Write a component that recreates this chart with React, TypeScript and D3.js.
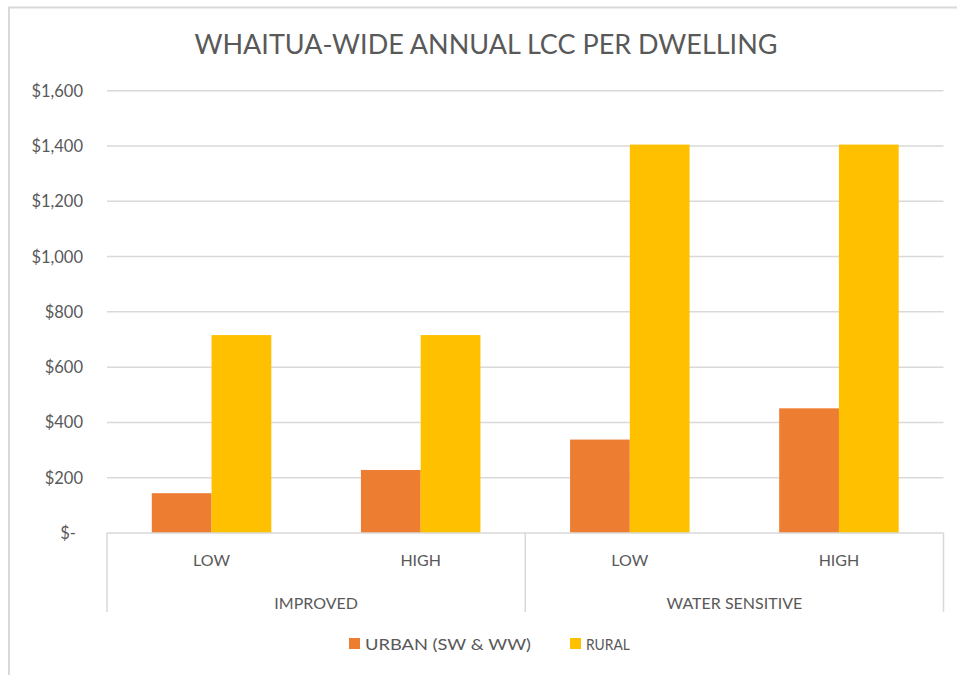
import React from 'react';
import * as d3 from 'd3';

// chart values
const groups = ['IMPROVED', 'WATER SENSITIVE'];
const levels = ['LOW', 'HIGH'];
const seriesNames = ['URBAN (SW & WW)', 'RURAL'];
const urbanValues = [144, 228, 338, 451];
const ruralValues = [716, 716, 1405, 1405];
const yTicks = [0, 200, 400, 600, 800, 1000, 1200, 1400, 1600];

const colors = ['#ED7D31', '#FFC000'];
const textColor = '#595959';
const gridColor = '#d9d9d9';
const font = 'Lato, "Open Sans", sans-serif';

const W = 957;
const H = 675;

const App = () => {
  const margin = { left: 107, right: 943.5, top: 90.7, bottom: 533 };

  // one entry per category (group x level)
  const cats = groups.flatMap(g => levels.map(l => `${g}|${l}`));
  const rows = cats.map((key, i) => ({
    key,
    level: key.split('|')[1],
    values: [urbanValues[i], ruralValues[i]],
  }));

  const x0 = d3.scaleBand<string>().domain(cats).range([margin.left, margin.right]);
  const x1 = d3.scaleBand<string>()
    .domain(seriesNames)
    .range([0, x0.bandwidth()])
    .paddingInner(0)
    .paddingOuter(0.75);
  const y = d3.scaleLinear().domain([0, 1600]).range([margin.bottom, margin.top]);

  const fmt = (v: number) => (v === 0 ? '$-' : '$' + d3.format(',')(v));

  const groupWidth = x0.step() * levels.length;
  const sepBottom = 612;

  return (
    <svg
      width={W}
      height={H}
      style={{ position: 'absolute', left: 0, top: 0, display: 'block', background: '#fff' }}
    >
      {/* chart frame */}
      <rect x={9} y={7.5} width={W + 20} height={H + 20} fill="#fff" stroke={gridColor} strokeWidth={2} />

      <text
        x={486}
        y={54}
        textAnchor="middle"
        fontFamily={font}
        fontSize={27}
        fill={textColor}
        textLength={583}
        lengthAdjust="spacingAndGlyphs"
      >
        WHAITUA-WIDE ANNUAL LCC PER DWELLING
      </text>

      {/* gridlines + y labels */}
      {yTicks.map(t => (
        <g key={t}>
          {t > 0 && (
            <line x1={margin.left} x2={margin.right} y1={y(t)} y2={y(t)} stroke={gridColor} strokeWidth={1.5} />
          )}
          <text
            x={t === 0 ? 76 : 83}
            y={y(t) + 6}
            textAnchor="end"
            fontFamily={font}
            fontSize={16.5}
            fill={textColor}
          >
            {fmt(t)}
          </text>
        </g>
      ))}

      {/* bars */}
      {rows.map(r => (
        <g key={r.key} transform={`translate(${x0(r.key)},0)`}>
          {r.values.map((v, j) => (
            <rect
              key={j}
              x={x1(seriesNames[j])}
              y={y(v)}
              width={x1.bandwidth()}
              height={y(0) - y(v)}
              fill={colors[j]}
            />
          ))}
        </g>
      ))}

      {/* category axis */}
      <line x1={margin.left} x2={margin.right} y1={y(0)} y2={y(0)} stroke={gridColor} strokeWidth={1.5} />
      {[0, 1, 2].map(i => {
        const xx = margin.left + i * groupWidth;
        return <line key={i} x1={xx} x2={xx} y1={y(0)} y2={sepBottom} stroke={gridColor} strokeWidth={1.5} />;
      })}
      {rows.map(r => (
        <text
          key={r.key + 'lbl'}
          x={(x0(r.key) as number) + x0.bandwidth() / 2}
          y={566}
          textAnchor="middle"
          fontFamily={font}
          fontSize={16}
          fill={textColor}
        >
          {r.level}
        </text>
      ))}
      {groups.map((g, i) => (
        <text
          key={g}
          x={margin.left + i * groupWidth + groupWidth / 2}
          y={609}
          textAnchor="middle"
          fontFamily={font}
          fontSize={16}
          fill={textColor}
        >
          {g}
        </text>
      ))}

      {/* legend */}
      <g>
        <rect x={349} y={638} width={11} height={11} fill={colors[0]} />
        <text x={365} y={650} fontFamily={font} fontSize={16} fill={textColor} textLength={166} lengthAdjust="spacingAndGlyphs">
          {seriesNames[0]}
        </text>
        <rect x={570} y={638} width={11} height={11} fill={colors[1]} />
        <text x={586} y={650} fontFamily={font} fontSize={16} fill={textColor} textLength={44} lengthAdjust="spacingAndGlyphs">
          {seriesNames[1]}
        </text>
      </g>
    </svg>
  );
};

export default App;
